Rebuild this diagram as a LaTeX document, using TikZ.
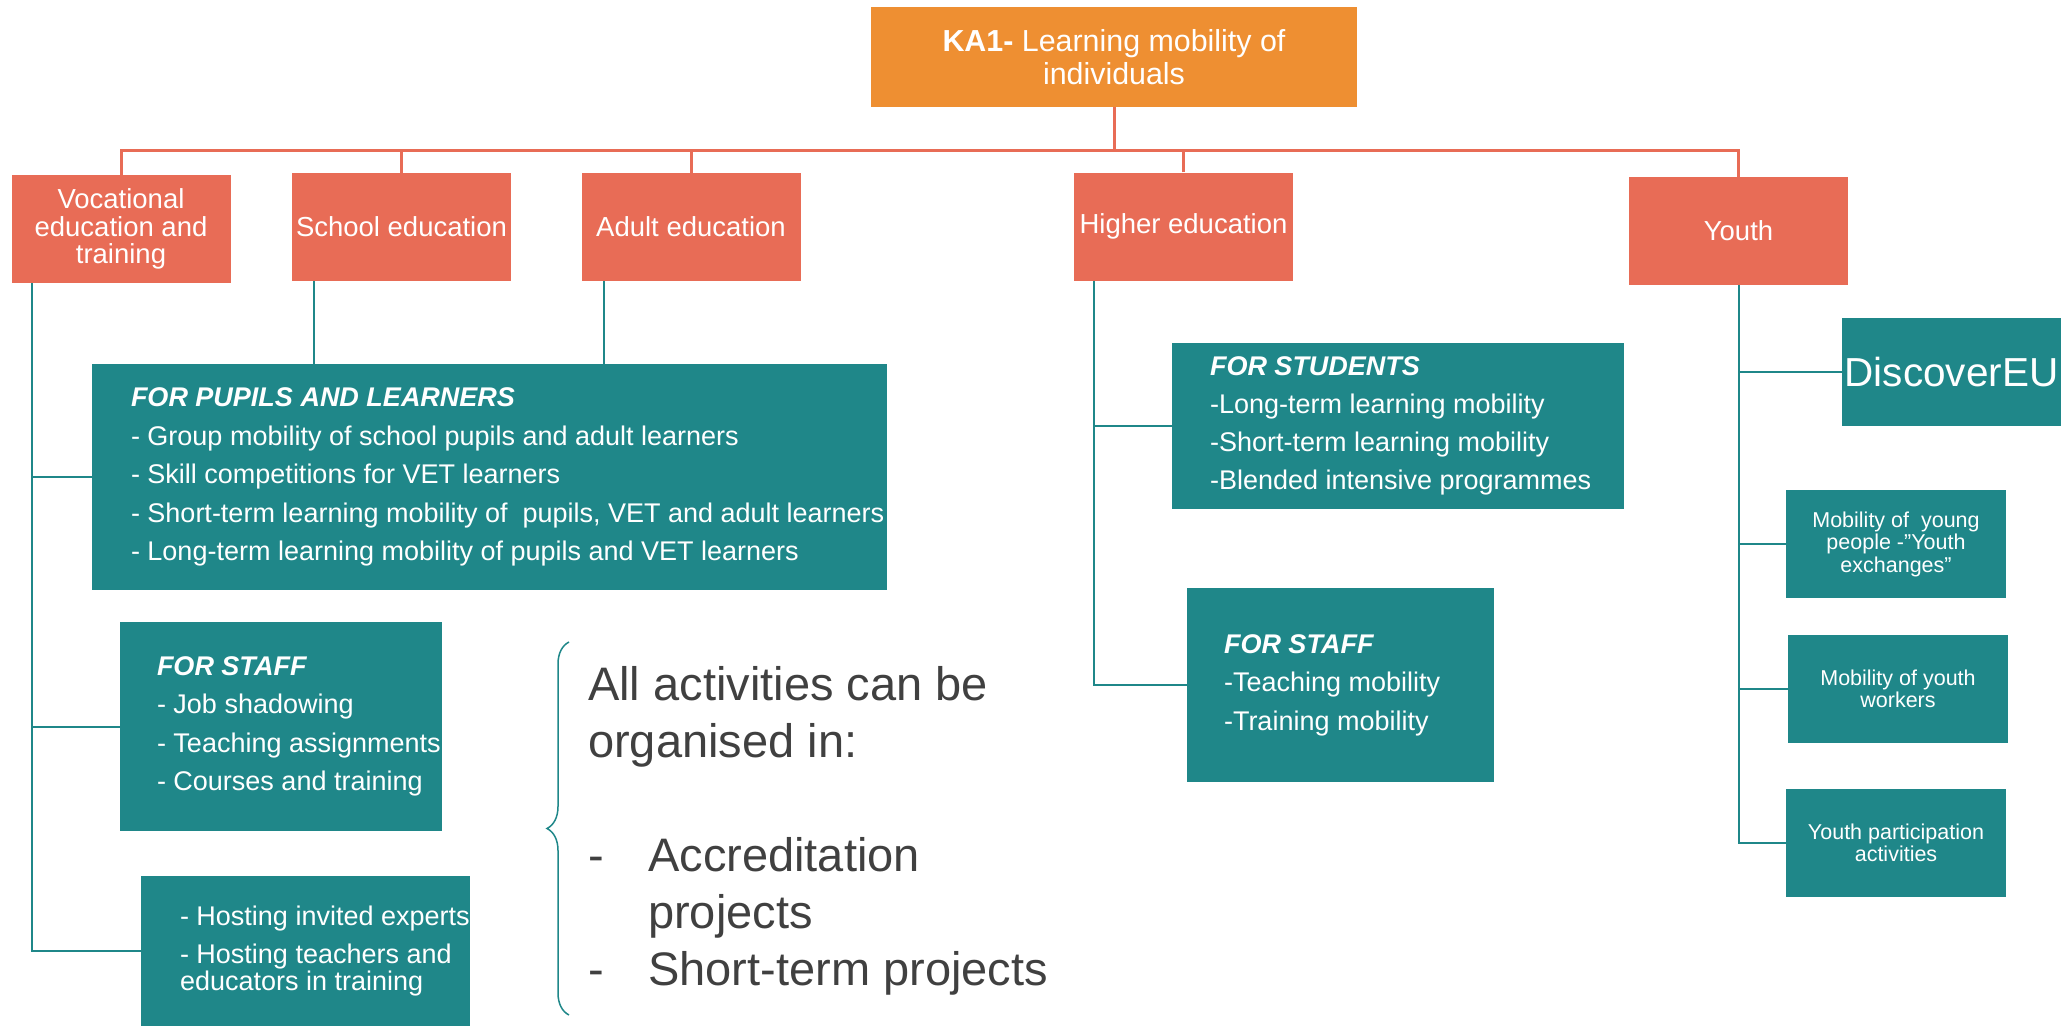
\documentclass[tikz,border=0pt]{standalone}
\usepackage{fontspec}
\setmainfont{Liberation Sans}
\usetikzlibrary{positioning,decorations.pathreplacing}

\definecolor{kaorange}{HTML}{EE8F32}
\definecolor{fieldred}{HTML}{E86C56}
\definecolor{actteal}{HTML}{1F8789}
\definecolor{notegray}{HTML}{404040}

\tikzset{
  field/.style={fill=fieldred, text=white, align=center, inner sep=0pt,
    minimum width=219pt, minimum height=108pt, font=\fontsize{27.5}{27.5}\selectfont},
  actbox/.style={fill=actteal, inner sep=0pt},
  acttext/.style={text=white, align=left, inner sep=0pt, font=\fontsize{27}{38.5}\selectfont},
  youthbox/.style={fill=actteal, text=white, align=center, inner sep=0pt,
    minimum width=220pt, minimum height=108pt, font=\fontsize{21.5}{22.5}\selectfont},
  redline/.style={draw=fieldred, line width=3pt},
  tealline/.style={draw=actteal, line width=2pt},
}

\begin{document}
\begin{tikzpicture}[x=1pt,y=-1pt]
   \useasboundingbox (0,0) rectangle (2061,1026);
   % action and fields
   \node[fill=kaorange, text=white, inner sep=0pt, minimum width=486pt, minimum height=100pt,
     align=center, font=\fontsize{30.4}{33}\selectfont] (ka1) at (1114,57)
     {\textbf{KA1-} Learning mobility of\\individuals};
   \node[field] (vet)    at (121,229)    {Vocational\\education and\\training};
   \node[field] (school) at (401.5,227)  {School education};
   \node[field] (adult)  at (691,227)    {Adult education};
   \node[field] (higher) at (1183.5,226.5) {Higher education};
   \node[field] (youth)  at (1738.5,231) {Youth};
   \coordinate (bus) at (1114,150);
   \path[redline]
     (ka1.south) -- (bus)
     (vet.north) -- (vet.north |- bus) -- (youth.north |- bus) -- (youth.north)
     (school.north) -- (school.north |- bus)
     (adult.north) -- (adult.north |- bus)
     (higher.north) -- (higher.north |- bus);

   % school, adult and VET activities
   \node[actbox, minimum width=795pt, minimum height=226pt] (pupils) at (489.5,477) {};
   \node[acttext, right=39pt of pupils.west] (pupils-txt)
     {\textbf{\textit{FOR PUPILS AND LEARNERS}}\\
      - Group mobility of school pupils and adult learners\\
      - Skill competitions for VET learners\\
      - Short-term learning mobility of~ pupils, VET and adult learners\\
      - Long-term learning mobility of pupils and VET learners};
   \node[actbox, minimum width=322pt, minimum height=209pt] (staff) at (281,726.5) {};
   \node[acttext, right=37pt of staff.west] (staff-txt)
     {\textbf{\textit{FOR STAFF}}\\
      - Job shadowing\\
      - Teaching assignments\\
      - Courses and training};
   \node[actbox, minimum width=329pt, minimum height=150pt] (hosting) at (305.5,951) {};
   \node[acttext, font=\fontsize{27}{27}\selectfont, right=39pt of hosting.west] (hosting-txt)
     {- Hosting invited experts\\[11pt]
      - Hosting teachers and\\
      educators in training};

   \coordinate (vet-trunk) at ([xshift=21pt]vet.south west);
   \coordinate (school-drop) at ([xshift=22pt]school.south west);
   \coordinate (adult-drop) at ([xshift=23pt]adult.south west);
   \draw[tealline] (vet-trunk) |- (hosting.west);
   \draw[tealline] (vet-trunk |- pupils.west) -- (pupils.west);
   \draw[tealline] (vet-trunk |- staff.west) -- (staff.west);
   \draw[tealline] (school-drop) -- (school-drop |- pupils.north);
   \draw[tealline] (adult-drop) -- (adult-drop |- pupils.north);

   % formats note
   \coordinate (brace-top) at (569,642);
   \coordinate (brace-bot) at (569,1015);
   \draw[actteal, line width=1.5pt, decorate, decoration={brace, amplitude=22pt}]
     (brace-bot) -- (brace-top);
   \node[anchor=north west, inner sep=0pt, align=left, text=notegray,
     font=\fontsize{47}{57}\selectfont] (note) at (588,666)
     {All activities can be\\
      organised in:\\[57pt]
      \makebox[60pt][l]{-}Accreditation\\
      \hspace*{60pt}projects\\
      \makebox[60pt][l]{-}Short-term projects};

   % higher education activities
   \node[actbox, minimum width=452pt, minimum height=166pt] (students) at (1398,426) {};
   \node[acttext, font=\fontsize{27}{38}\selectfont, right=38pt of students.west] (students-txt)
     {\textbf{\textit{FOR STUDENTS}}\\
      -Long-term learning mobility\\
      -Short-term learning mobility\\
      -Blended intensive programmes};
   \node[actbox, minimum width=307pt, minimum height=194pt] (hestaff) at (1340.5,685) {};
   \node[acttext, right=37pt of hestaff.west] (hestaff-txt)
     {\textbf{\textit{FOR STAFF}}\\
      -Teaching mobility\\
      -Training mobility};
   \coordinate (higher-trunk) at ([xshift=20pt]higher.south west);
   \draw[tealline] (higher-trunk) |- (hestaff.west);
   \draw[tealline] (higher-trunk |- students.west) -- (students.west);

   % youth activities
   \node[actbox, text=white, minimum width=219pt, minimum height=108pt,
     font=\fontsize{40.5}{40.5}\selectfont] (discover) at (1951.5,372) {DiscoverEU};
   \node[youthbox] (young)   at (1896,544) {Mobility of~ young\\people -"Youth\\exchanges"};
   \node[youthbox] (workers) at (1898,689) {Mobility of youth\\workers};
   \node[youthbox] (partic)  at (1896,843) {Youth participation\\activities};
   \draw[tealline] (youth.south) |- (partic.west);
   \draw[tealline] (youth.south |- discover.west) -- (discover.west);
   \draw[tealline] (youth.south |- young.west) -- (young.west);
   \draw[tealline] (youth.south |- workers.west) -- (workers.west);
\end{tikzpicture}
\end{document}
